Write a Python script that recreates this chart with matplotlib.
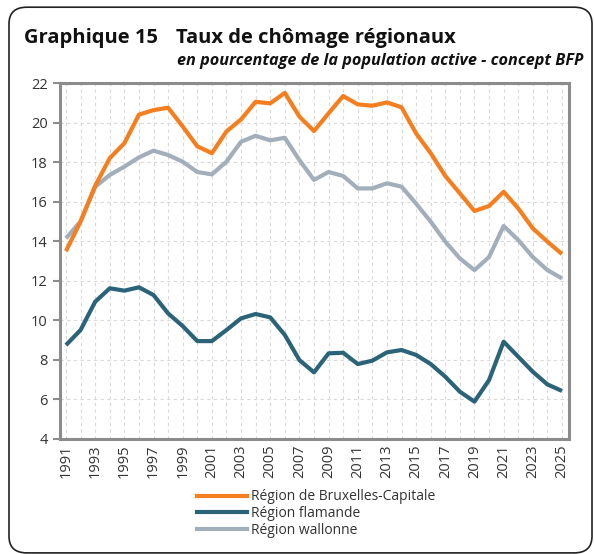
import matplotlib
matplotlib.use("Agg")
import matplotlib.pyplot as plt
from matplotlib.patches import FancyBboxPatch
import numpy as np

plt.rcParams['font.family'] = ['Open Sans', 'DejaVu Sans']

# Donnees
years = list(range(1991, 2026))
bruxelles = [13.5, 15.0, 16.8, 18.2, 18.95, 20.4, 20.63, 20.75, 19.8, 18.8,
             18.45, 19.55, 20.16, 21.05, 20.97, 21.5, 20.3, 19.57, 20.47, 21.34,
             20.92, 20.85, 21.02, 20.77, 19.45, 18.45, 17.3, 16.42, 15.53, 15.78,
             16.5, 15.66, 14.65, 13.98, 13.35]
flandre = [8.75, 9.51, 10.94, 11.62, 11.5, 11.67, 11.28, 10.35, 9.71, 8.95,
           8.95, 9.51, 10.1, 10.32, 10.15, 9.26, 7.99, 7.37, 8.33, 8.36,
           7.79, 7.96, 8.38, 8.5, 8.25, 7.79, 7.15, 6.39, 5.89, 6.98,
           8.92, 8.16, 7.4, 6.76, 6.43]
wallonie = [14.15, 15.0, 16.75, 17.35, 17.77, 18.24, 18.58, 18.36, 18.02, 17.5,
            17.38, 18.02, 19.03, 19.33, 19.1, 19.23, 18.1, 17.1, 17.5, 17.3,
            16.67, 16.67, 16.93, 16.76, 15.9, 14.99, 13.98, 13.13, 12.54, 13.2,
            14.77, 14.06, 13.2, 12.54, 12.12]
labels = ['Région de Bruxelles-Capitale', 'Région flamande', 'Région wallonne']
colors = ['#F57F1F', '#2B6478', '#A3AEBB']

fig = plt.figure(figsize=(5.94, 5.54), dpi=100)

# cadre arrondi
frame = FancyBboxPatch((9 / 594, 0.002), 583 / 594, 0.985,
                       boxstyle="round,pad=0,rounding_size=0.03",
                       transform=fig.transFigure, fill=False,
                       edgecolor='#222222', linewidth=1.2, clip_on=False)
fig.patches.append(frame)

ax = fig.add_axes([60 / 594, 1 - 439 / 554, 509 / 594, 356 / 554])

# wallonne en dessous, puis flamande, puis Bruxelles
ax.plot(years, wallonie, color=colors[2], lw=3, zorder=3, solid_capstyle='butt')
ax.plot(years, flandre, color=colors[1], lw=3, zorder=4, solid_capstyle='butt')
ax.plot(years, bruxelles, color=colors[0], lw=3, zorder=5, solid_capstyle='butt')

ax.set_xlim(1990.59, 2025.48)
ax.set_ylim(4, 22)
ax.set_yticks(np.arange(4, 23, 2))
ax.set_xticks(years[::2])
ax.set_xticks(years[1::2], minor=True)
ax.set_xticklabels([str(y) for y in years[::2]], rotation=90)

ax.grid(True, which='both', axis='x', color='#D9D9D9', ls=(0, (3, 3)), lw=0.8)
ax.grid(True, which='major', axis='y', color='#D9D9D9', ls=(0, (3, 3)), lw=0.8)
ax.set_axisbelow(True)

for s in ax.spines.values():
    s.set_color('#8C8C8C')
    s.set_linewidth(2.2)

ax.tick_params(axis='y', length=5, width=1.5, color='#8C8C8C', labelsize=10.5,
               labelcolor='#333333', pad=4)
ax.tick_params(axis='x', which='both', length=0, labelsize=10.5,
               labelcolor='#333333', pad=4)

fig.text(24 / 594, 1 - 38 / 554, 'Graphique 15', fontsize=14.5, fontweight='bold',
         va='center', ha='left', color='#111111')
fig.text(176 / 594, 1 - 38 / 554, 'Taux de chômage régionaux', fontsize=14.5,
         fontweight='bold', va='center', ha='left', color='#111111')
fig.text(583 / 594, 1 - 61 / 554,
         'en pourcentage de la population active - concept BFP',
         fontsize=11.7, fontweight='bold', style='italic', va='center',
         ha='right', color='#111111')

handles = [plt.Line2D([], [], color=c, lw=3) for c in colors]
fig.legend(handles, labels, loc='upper left',
           bbox_to_anchor=(184 / 594, 1 - 477 / 554), frameon=False,
           fontsize=10, handlelength=3.6, handletextpad=0.3,
           labelspacing=0.12, labelcolor='#333333')

fig.savefig('out.png', dpi=100)
